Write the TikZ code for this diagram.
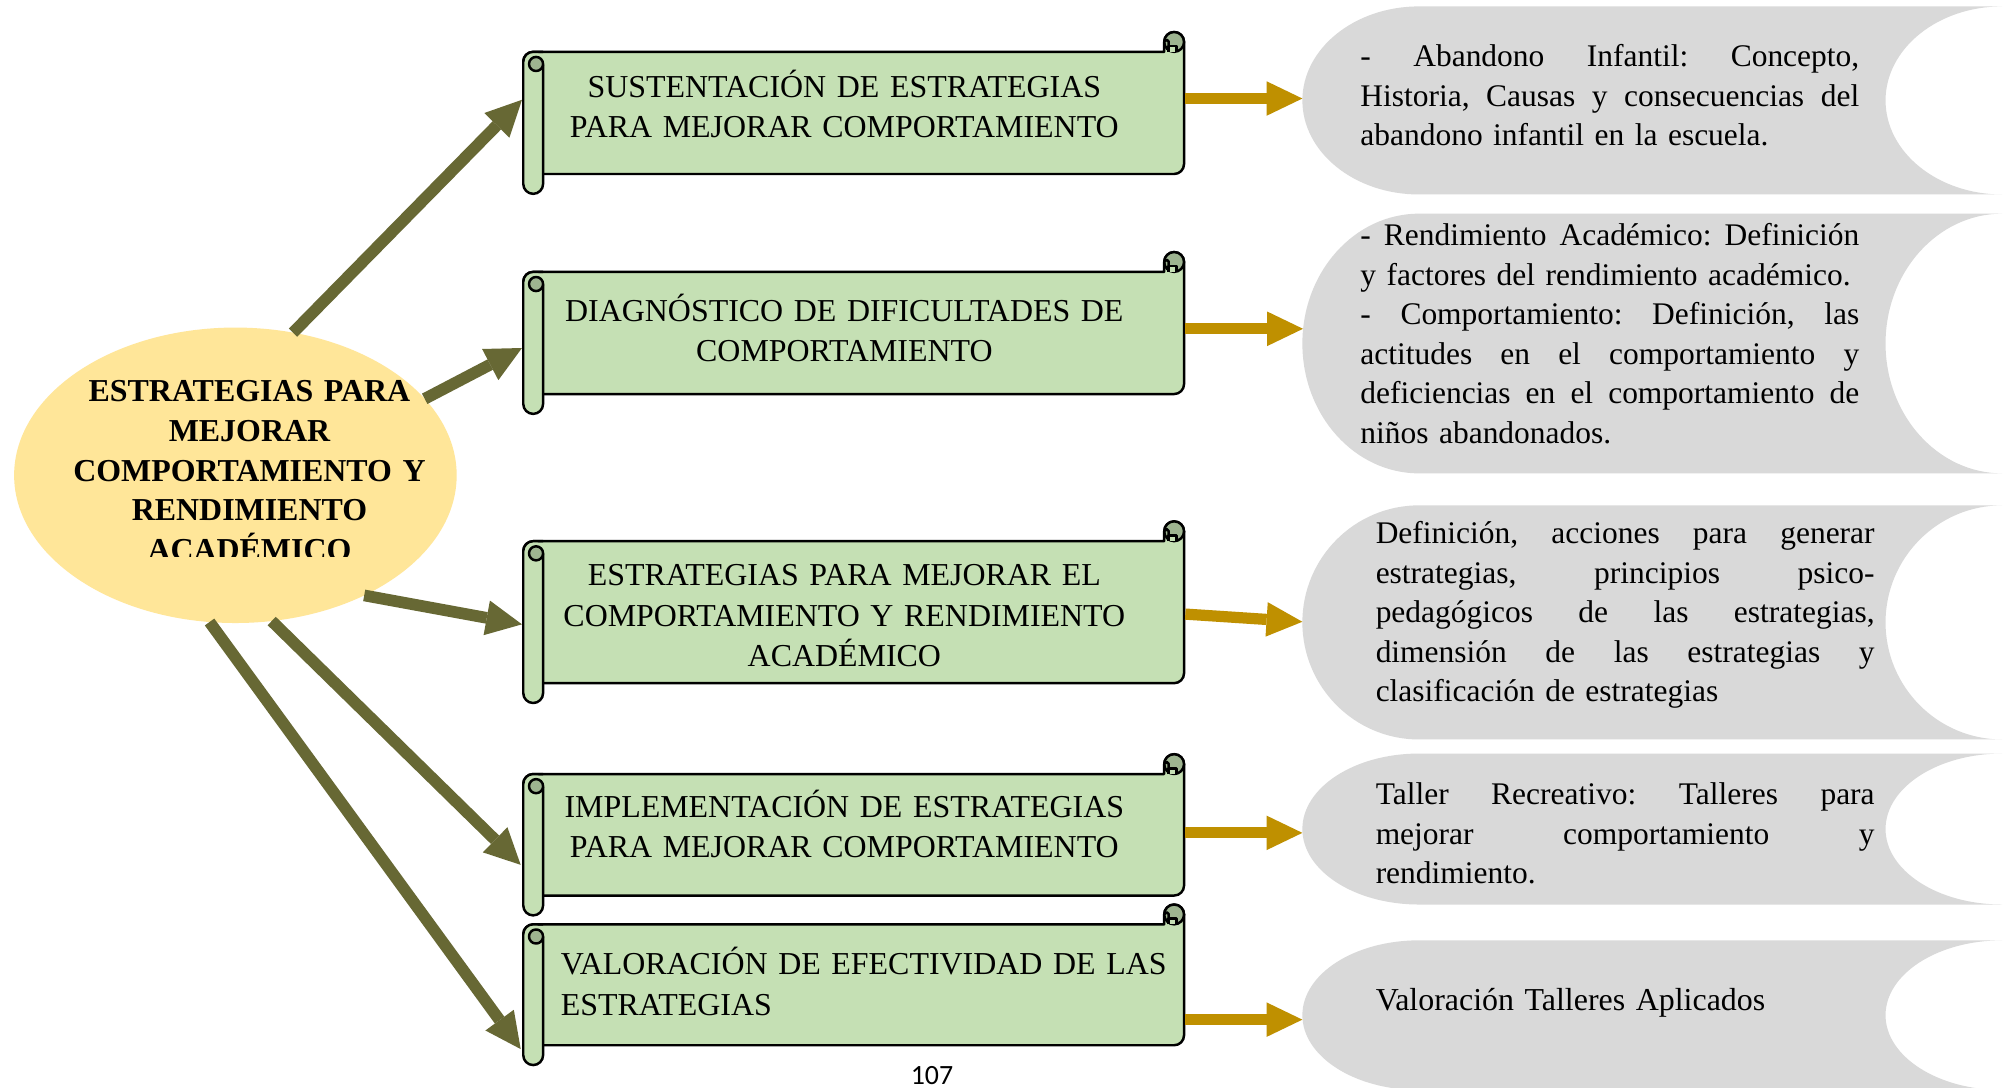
\documentclass[tikz,border=0pt]{standalone}
\usepackage{fontspec}
\setmainfont{Liberation Serif}
\newfontfamily\pagenumfont{Carlito}
\usetikzlibrary{arrows.meta,shapes.geometric}
\definecolor{scrollgreen}{HTML}{C5E0B4}
\definecolor{curlgreen}{HTML}{9EB490}
\definecolor{ellyellow}{HTML}{FFE699}
\definecolor{shapegray}{HTML}{D9D9D9}
\definecolor{olivearrow}{HTML}{676834}
\definecolor{goldarrow}{HTML}{BF9000}
\newcommand\jl[1]{\leavevmode\hbox to 7.8cm{\spaceskip=0.25em plus 1fil\xspaceskip=0pt\relax #1}}
\tikzset{
  scrollline/.style={line width=1.1pt,draw=black,line join=round},
  scrolltext/.style={font=\fontsize{14.2pt}{18pt}\selectfont\frenchspacing,text width=10cm,align=center,inner sep=0pt,anchor=base},
  graytext/.style={font=\fontsize{14pt}{17.6pt}\selectfont\frenchspacing,text width=7.8cm,align=left,inner sep=0pt,anchor=base west},
  olivearr/.style={line width=5.2pt,color=olivearrow,-{Triangle[length=0.56cm,width=0.55cm,line width=0pt]}},
  goldarr/.style={line width=5pt,color=goldarrow,-{Triangle[length=0.56cm,width=0.54cm,line width=0pt]}}
}
% scroll shape: #1 L, #2 R, #3 T, #4 B (display units, y down)
\newcommand\scrollshape[4]{%
  \filldraw[scrollline,fill=scrollgreen]
    (#1,#3+7.75) arc[start angle=180,end angle=90,radius=0.155cm]
    -- (#2-15.5,#3) -- (#2-15.5,#3-7.75)
    arc[start angle=180,end angle=0,radius=0.155cm]
    -- (#2,#4-7.75) arc[start angle=0,end angle=-90,radius=0.155cm]
    -- (#1,#4) -- cycle;
  \filldraw[scrollline,fill=curlgreen] (#2-7.75,#3-7.75) circle[radius=0.155cm];
  \filldraw[scrollline,fill=scrollgreen] (#2-12,#3) -- (#2-12,#3-4.5) -- (#2-6,#3-4.5) -- (#2-6,#3);
  \draw[scrollline] (#2-12,#3-4.5) -- (#2-12,#3-8) arc[start angle=0,end angle=180,radius=0.03cm];
  \fill[scrollgreen] (#1,#3+7.75) -- (#1,#4+7.75) arc[start angle=180,end angle=360,radius=0.155cm]
    -- (#1+15.5,#3+7.75) arc[start angle=0,end angle=180,radius=0.155cm] -- cycle;
  \draw[scrollline] (#1+15.5,#3+10) -- (#1+15.5,#4+7.75) arc[start angle=0,end angle=-180,radius=0.155cm]
    -- (#1,#3+7.75) arc[start angle=180,end angle=90,radius=0.155cm] -- (#1+15.5,#3);
  \filldraw[scrollline,fill=curlgreen] (#1+10,#3+9.5) circle[radius=0.11cm];
}
% gray "stored data" shape: #1 L, #2 R, #3 T, #4 B
\newcommand\grayshape[4]{%
  \pgfmathsetmacro\gxr{(#2-#1)/6*0.02}%
  \pgfmathsetmacro\gyr{(#4-#3)/2*0.02}%
  \pgfmathsetmacro\gdx{(#2-#1)/6}%
  \fill[shapegray] (#1+\gdx,#3) arc[start angle=90,end angle=270,x radius=\gxr cm,y radius=\gyr cm]
    -- (#2,#4) arc[start angle=270,end angle=90,x radius=\gxr cm,y radius=\gyr cm] -- cycle;
}
\begin{document}
\begin{tikzpicture}[x=0.02cm,y=-0.02cm]
\useasboundingbox (0,0) rectangle (1568,850);
\fill[white] (0,0) rectangle (1568,850);

% gray shapes
\grayshape{1018}{1565}{5}{152}
\grayshape{1018}{1565}{167}{370}
\grayshape{1018}{1565}{395}{578}
\grayshape{1018}{1565}{589}{707}
\grayshape{1018}{1565}{735}{852}

% scrolls
\scrollshape{409}{925.5}{40.5}{136}
\scrollshape{409}{925.5}{212.5}{308}
\scrollshape{409}{925.5}{423}{534}
\scrollshape{409}{925.5}{605}{700}
\scrollshape{409}{925.5}{722.5}{817}

% ellipse
\node[ellipse,fill=ellyellow,minimum width=6.92cm,minimum height=4.62cm,inner sep=0pt,outer sep=0pt] (e) at (184,371.5) {};
\begin{scope}
\clip (0,0) rectangle (1568,435);
\node[font=\bfseries\fontsize{14.2pt}{17.64pt}\selectfont,text width=7cm,align=center,inner sep=0pt,anchor=base] (etext) at (195,314)
  {ESTRATEGIAS PARA\\MEJORAR\\COMPORTAMIENTO Y\\RENDIMIENTO\\ACADÉMICO};
\end{scope}

% scroll texts
\node[scrolltext] (s1) at (660,76) {SUSTENTACIÓN DE ESTRATEGIAS\\PARA MEJORAR COMPORTAMIENTO};
\node[scrolltext] (s2) at (660,251) {DIAGNÓSTICO DE DIFICULTADES DE\\COMPORTAMIENTO};
\node[scrolltext] (s3) at (660,458) {ESTRATEGIAS PARA MEJORAR EL\\COMPORTAMIENTO Y RENDIMIENTO\\ACADÉMICO};
\node[scrolltext] (s4) at (660,639) {IMPLEMENTACIÓN DE ESTRATEGIAS\\PARA MEJORAR COMPORTAMIENTO};
\node[scrolltext,anchor=base west,align=left] (s5) at (438,762) {VALORACIÓN DE EFECTIVIDAD DE LAS\\ESTRATEGIAS};

% gray texts
\node[graytext] (g1) at (1063,52) {\jl{- Abandono Infantil: Concepto,}\\\jl{Historia, Causas y consecuencias del}\\abandono infantil en la escuela.};
\node[graytext] (g2) at (1063,192) {\jl{- Rendimiento Académico: Definición}\\y factores del rendimiento académico.\\\jl{- Comportamiento: Definición, las}\\\jl{actitudes en el comportamiento y}\\\jl{deficiencias en el comportamiento de}\\niños abandonados.};
\node[graytext] (g3) at (1075,425) {\jl{Definición, acciones para generar}\\\jl{estrategias, principios psico-}\\\jl{pedagógicos de las estrategias,}\\\jl{dimensión de las estrategias y}\\clasificación de estrategias};
\node[graytext] (g4) at (1075,629) {\jl{Taller Recreativo: Talleres para}\\\jl{mejorar comportamiento y}\\rendimiento.};
\node[graytext,font=\fontsize{14.2pt}{17.6pt}\selectfont] (g5) at (1075,790) {Valoración Talleres Aplicados};

% connector end points
\coordinate (s1-in) at (408,78);
\coordinate (s2-in) at (408,272);
\coordinate (s3-in) at (408,488);
\coordinate (s4-in) at (407,676);
\coordinate (s5-in) at (407,820);
\coordinate (s1-out) at (926.5,77);
\coordinate (s2-out) at (926.5,257);
\coordinate (s3-out) at (926.5,480);
\coordinate (s4-out) at (926.5,651);
\coordinate (s5-out) at (926.5,797);
\coordinate (g1-in) at (1018,77);
\coordinate (g2-in) at (1018.5,257);
\coordinate (g3-in) at (1018,486);
\coordinate (g4-in) at (1018,651);
\coordinate (g5-in) at (1018,797);

% olive arrows
\draw[olivearr] (e.68.4) -- (s1-in);
\draw[olivearr] (e.22.8) -- (s2-in);
\draw[olivearr] (e.-43.7) -- (s3-in);
\draw[olivearr] (e.-76) -- (s4-in);
\draw[olivearr] (e.-100.7) -- (s5-in);

% gold arrows
\draw[goldarr] (s1-out) -- (g1-in);
\draw[goldarr] (s2-out) -- (g2-in);
\draw[goldarr] (s3-out) -- (g3-in);
\draw[goldarr] (s4-out) -- (g4-in);
\draw[goldarr] (s5-out) -- (g5-in);

% page number
\node[font=\pagenumfont\fontsize{12.4pt}{14pt}\selectfont,inner sep=0pt,anchor=base] (pnum) at (728.5,847.5) {107};
\end{tikzpicture}
\end{document}
